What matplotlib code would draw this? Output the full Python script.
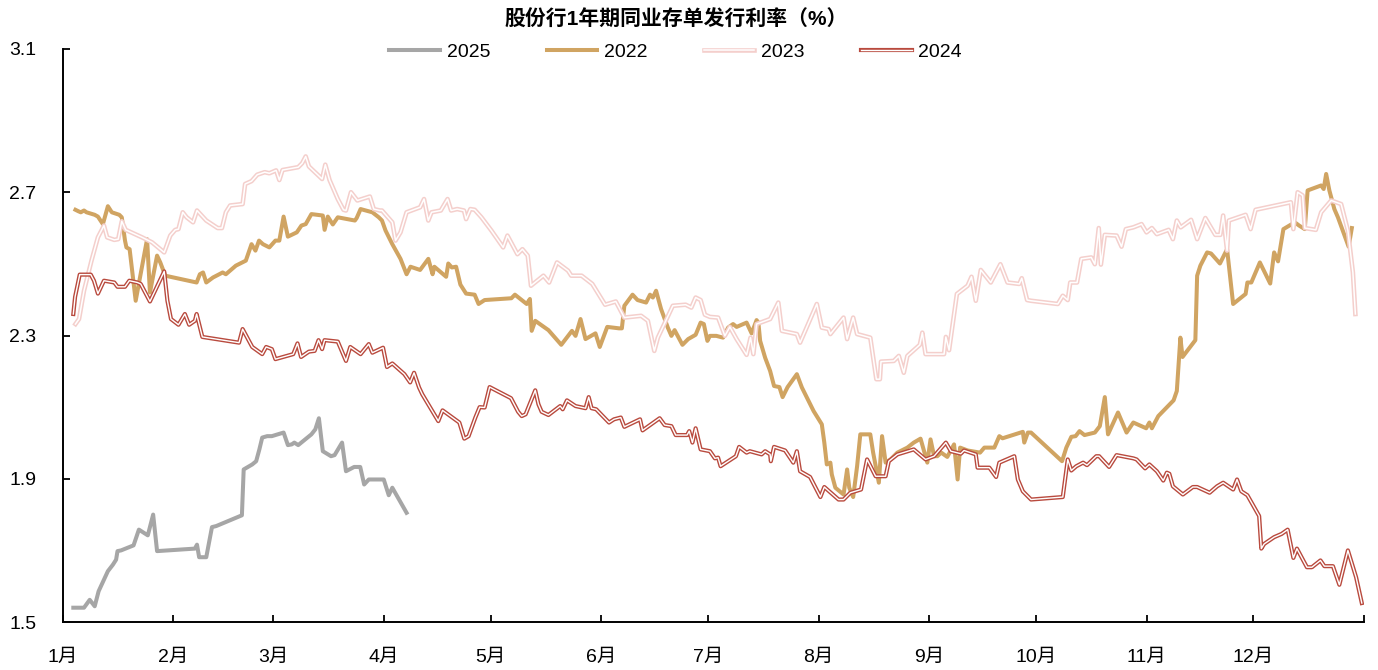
import matplotlib
matplotlib.use("Agg")
import matplotlib.pyplot as plt
import matplotlib.patheffects as pe

plt.rcParams['font.family'] = ['Liberation Sans', 'Noto Sans CJK SC', 'DejaVu Sans']
plt.rcParams['axes.unicode_minus'] = False

# ---- data: day of year (0 = Jan 1) and issuance rate (%) ----
month_labels = ['1月', '2月', '3月', '4月', '5月', '6月', '7月', '8月', '9月', '10月', '11月', '12月']
month_starts = [0, 31, 59, 90, 120, 151, 181, 212, 243, 273, 304, 334]
y_ticks = [1.5, 1.9, 2.3, 2.7, 3.1]

days_2025 = [2.9, 5.9, 7.5, 8.9, 10, 12.6, 14, 14.9, 15.3, 16.3, 19.8, 21.3, 23.8, 25.3, 26.4,
             37, 37.6, 38.2, 40.2, 41.8, 43, 50.2, 50.7, 53.1, 54.2, 55.1, 55.9, 57.3, 58.6,
             61.9, 63.1, 64.2, 64.9, 66, 69.7, 70.8, 71.8, 72.9, 75.2, 76.2, 78.3, 79.4, 81.7,
             83.4, 84.5, 85.8, 90, 91.4, 92.4, 96.4]
rate_2025 = [1.540, 1.540, 1.562, 1.544, 1.586, 1.642, 1.660, 1.674, 1.698, 1.700, 1.714, 1.758,
             1.742, 1.800, 1.698, 1.705, 1.716, 1.681, 1.681, 1.765, 1.768, 1.798, 1.926, 1.940,
             1.949, 1.982, 2.015, 2.019, 2.019, 2.029, 1.994, 1.996, 2.001, 1.994, 2.024, 2.038,
             2.069, 1.977, 1.963, 1.966, 2.001, 1.921, 1.933, 1.933, 1.884, 1.898, 1.898, 1.854,
             1.875, 1.805]

days_2022 = [3.5, 4.3, 5.0, 5.9, 6.6, 8.9, 9.8, 11.2, 12.6, 13.7, 15.8, 16.5, 17.4, 17.8, 18.7,
             20.4, 23.6, 24.4, 26.4, 27.3, 28.7, 37.5, 38.4, 39.3, 40.2, 42.1, 44.8, 45.7, 48.5,
             51.3, 52.9, 54.0, 55.0, 56.1, 57.9, 59.6, 60.7, 61.9, 63.1, 65.6, 66.9, 68.1, 69.7,
             72.9, 73.4, 74.3, 75.7, 77.1, 80.8, 81.9, 82.4, 83.5, 86.8, 88.6,
             89.5, 90.5, 92.4, 94.7, 96.4, 97.5, 100.2, 102.5, 103.7, 104.2, 107.5, 108.1, 109.1,
             110.3, 111.5, 113.1, 115.5, 116.6, 118.3, 125.8, 126.8, 130.1, 131.0, 131.5, 132.5,
             136.2, 139.8, 142.8, 143.8, 145.2, 146.6, 149.4, 150.6, 152.7, 156.0, 156.8, 157.5,
             159.8, 161.2, 163.6, 164.7, 165.5, 166.4, 167.8, 169.7, 170.7, 171.6, 173.8, 175.4,
             177.5, 178.9, 179.8, 180.8, 181.5,
             183.3, 185.2, 186.6, 188.0, 189.0, 191.8, 193.2, 194.6, 195.1, 195.6, 197.0, 198.4,
             199.5, 201.0, 201.9, 203.3, 205.9, 207.3, 208.7, 210.6, 212.9, 213.6, 214.3, 215.3,
             215.7, 216.7, 219.0, 220.0, 220.6, 221.7, 222.8, 223.7, 226.5, 227.3, 228.9, 229.8,
             230.8, 232.2, 234.1, 236.9, 238.7, 240.6, 242.5, 243.4, 244.4, 245.3, 246.4, 248.1,
             250.0, 251.0, 251.7, 253.8, 257.3, 258.5, 261.3, 262.7, 263.6, 269.3, 269.7, 270.7,
             271.6, 280.3, 281.5, 282.9, 284.1, 285.2, 286.6, 289.5, 290.9, 292.3, 293.2, 296.0,
             298.4, 300.3, 303.9, 304.8, 305.5, 307.3, 311.6, 312.5, 313.5, 314.1, 317.7, 318.2,
             319.1, 321.0, 322.1, 324.6, 326.6, 328.3, 331.8, 332.3, 333.4, 335.8, 338.7, 339.8,
             340.9, 342.4, 345.6, 346.8, 348.4, 349.2, 353.0, 353.7, 354.4, 355.3, 356.7, 357.7,
             360.7, 361.6]
rate_2022 = [2.651, 2.647, 2.644, 2.649, 2.644, 2.637, 2.632, 2.611, 2.661, 2.644, 2.637, 2.630,
             2.565, 2.546, 2.541, 2.397, 2.569, 2.420, 2.523, 2.504, 2.467, 2.448, 2.471, 2.476,
             2.448, 2.462, 2.476, 2.471, 2.495, 2.509, 2.555, 2.537, 2.565, 2.555, 2.546, 2.565,
             2.565, 2.632, 2.576, 2.588, 2.607, 2.611, 2.639, 2.635, 2.595, 2.632, 2.610, 2.630,
             2.623, 2.621, 2.628, 2.653, 2.644, 2.630,
             2.621, 2.593, 2.555, 2.514, 2.471, 2.492, 2.483, 2.514, 2.471, 2.492, 2.464, 2.501,
             2.490, 2.492, 2.442, 2.417, 2.414, 2.388, 2.399, 2.404, 2.414, 2.388, 2.402, 2.313,
             2.341, 2.315, 2.274, 2.313, 2.299, 2.346, 2.290, 2.306, 2.268, 2.324, 2.320, 2.320,
             2.383, 2.414, 2.399, 2.392, 2.414, 2.406, 2.425, 2.374, 2.322, 2.299, 2.315, 2.274,
             2.290, 2.302, 2.336, 2.332, 2.285, 2.299,
             2.299, 2.294, 2.322, 2.332, 2.324, 2.336, 2.306, 2.343, 2.336, 2.285, 2.238, 2.201,
             2.159, 2.156, 2.128, 2.156, 2.192, 2.155, 2.127, 2.089, 2.052, 2.001, 1.940, 1.945,
             1.912, 1.875, 1.856, 1.926, 1.875, 1.849, 1.935, 2.024, 2.024, 1.973, 1.889, 2.019,
             1.945, 1.954, 1.973, 1.987, 2.001, 2.012, 1.945, 2.010, 1.963, 1.963, 1.973, 1.961,
             1.996, 1.898, 1.987, 1.979, 1.973, 1.987, 1.987, 2.019, 2.013, 2.031, 2.001, 2.029,
             2.029, 1.949, 1.987, 2.017, 2.019, 2.033, 2.022, 2.029, 2.047, 2.128, 2.024, 2.085,
             2.029, 2.057, 2.041, 2.057, 2.041, 2.075, 2.119, 2.145, 2.294, 2.240, 2.287, 2.467,
             2.495, 2.532, 2.529, 2.501, 2.541, 2.388, 2.416, 2.448, 2.448, 2.504, 2.445, 2.532,
             2.507, 2.597, 2.616, 2.607, 2.597, 2.705, 2.719, 2.709, 2.751, 2.705, 2.653, 2.630,
             2.548, 2.600]

days_2023 = [3.5, 4.5, 5.9, 8.0, 9.8, 11.5, 12.4, 14.4, 15.5, 16.5, 17.6, 22.2, 25.0, 28.4, 30.1,
             31.5, 32.4, 33.6, 34.7, 36.5, 37.6, 40.2, 43.4, 44.6, 45.7, 46.9, 50.4, 51.1, 52.9,
             54.5, 56.6, 57.9, 59.8, 60.7, 61.6, 66.0, 67.1, 68.1, 69.0, 72.7, 73.6, 74.8, 77.1,
             78.7, 79.4, 80.8, 82.6, 86.1, 87.2, 88.9,
             89.5, 92.4, 93.3, 94.7, 96.4, 100.2, 101.3, 102.5, 103.4, 106.0, 107.9, 108.9, 110.6,
             112.5, 113.1, 114.3, 115.5, 117.4, 120.2, 123.5, 124.7, 127.5, 128.9, 130.4, 131.3,
             134.8, 136.4, 138.6, 141.7, 142.6, 145.5, 148.5, 152.1, 155.1, 157.5, 162.2, 164.1,
             165.9, 166.9, 171.1, 174.7, 176.3, 177.5, 178.9, 180.1, 181.5,
             183.8, 185.7, 187.1, 189.0, 191.8, 192.9, 193.7, 194.6, 198.4, 200.7, 201.7, 205.9,
             206.8, 211.5, 212.9, 214.8, 215.3, 219.0, 220.0, 221.7, 222.8, 226.5, 228.2, 229.2,
             229.5, 233.1, 234.5, 235.9, 236.9, 240.4, 241.1, 242.0, 247.2, 247.7, 248.6, 250.8,
             253.8, 254.9, 256.1, 257.5, 260.3, 263.0, 265.0, 268.3, 269.0, 270.5, 271.6,
             279.1, 280.5, 281.9, 282.6, 284.5, 285.7, 288.5, 289.5, 290.6, 291.2, 292.3, 295.6,
             297.0, 298.2, 300.3, 302.6, 304.0, 305.5, 306.9, 310.2, 311.4, 312.5, 313.6, 316.5,
             318.2, 320.5, 323.3, 324.7, 325.5, 326.6, 327.1, 331.8, 333.2, 334.6, 344.5, 345.2,
             346.4, 347.8, 348.4, 351.5, 353.0, 355.8, 358.6, 360.5, 361.9, 362.6]
rate_2023 = [2.332, 2.346, 2.425, 2.509, 2.574, 2.607, 2.574, 2.567, 2.569, 2.619, 2.595, 2.574,
             2.560, 2.532, 2.579, 2.595, 2.597, 2.644, 2.630, 2.616, 2.649, 2.621, 2.600, 2.600,
             2.644, 2.663, 2.667, 2.723, 2.731, 2.749, 2.756, 2.753, 2.761, 2.734, 2.762, 2.770,
             2.781, 2.800, 2.772, 2.737, 2.777, 2.734, 2.681, 2.651, 2.649, 2.700, 2.677, 2.688,
             2.653, 2.649,
             2.649, 2.616, 2.565, 2.588, 2.644, 2.658, 2.681, 2.621, 2.644, 2.649, 2.681, 2.649,
             2.653, 2.649, 2.625, 2.653, 2.651, 2.630, 2.593, 2.546, 2.579, 2.527, 2.541, 2.523,
             2.439, 2.467, 2.448, 2.504, 2.481, 2.467, 2.467, 2.444, 2.386, 2.395, 2.350, 2.355,
             2.341, 2.257, 2.294, 2.383, 2.386, 2.378, 2.406, 2.399, 2.358, 2.352,
             2.350, 2.299, 2.324, 2.290, 2.246, 2.294, 2.248, 2.332, 2.346, 2.392, 2.313, 2.304,
             2.280, 2.388, 2.322, 2.318, 2.304, 2.350, 2.290, 2.350, 2.304, 2.294, 2.178, 2.178,
             2.227, 2.229, 2.243, 2.196, 2.243, 2.274, 2.308, 2.248, 2.248, 2.296, 2.259, 2.416,
             2.439, 2.464, 2.397, 2.483, 2.448, 2.499, 2.448, 2.444, 2.460, 2.399, 2.397,
             2.388, 2.411, 2.399, 2.448, 2.448, 2.514, 2.518, 2.499, 2.600, 2.498, 2.581, 2.579,
             2.548, 2.597, 2.602, 2.611, 2.588, 2.600, 2.583, 2.595, 2.569, 2.621, 2.602, 2.623,
             2.569, 2.628, 2.581, 2.581, 2.635, 2.537, 2.621, 2.637, 2.597, 2.651, 2.672, 2.597,
             2.700, 2.691, 2.600, 2.595, 2.644, 2.677, 2.667, 2.593, 2.476, 2.360]

days_2024 = [2.9, 3.4, 4.7, 7.8, 8.7, 9.8, 11.5, 14.4, 15.3, 17.4, 18.6, 20.9, 21.8, 24.4, 28.4,
             29.3, 30.3, 32.4, 34.2, 35.4, 37.0, 37.5, 39.1, 49.4, 50.4, 53.1, 55.9, 57.0, 58.6,
             59.6, 64.6, 65.8, 66.8, 69.0, 70.6, 71.7, 72.7, 73.4, 77.1, 79.4, 80.6, 83.5, 85.8,
             86.8, 89.8, 90.9,
             92.4, 95.8, 97.4, 98.5, 99.9, 100.8, 105.3, 106.5, 111.2, 112.6, 113.8, 115.7, 116.9,
             118.3, 119.7, 125.7, 127.7, 128.7, 129.8, 132.5, 133.4, 134.3, 136.2, 139.5, 140.2,
             141.4, 143.8, 146.6, 147.5, 148.3, 149.6, 153.2, 154.6, 156.5, 157.5, 161.9, 162.6,
             167.4, 168.8, 170.7, 171.9, 175.1, 175.7, 176.6, 177.5, 178.9, 181.5,
             182.9, 183.8, 184.5, 188.8, 189.7, 191.8, 192.7, 196.0, 197.0, 198.4, 198.6, 199.5,
             202.6, 204.9, 205.9, 206.8, 209.6, 212.5, 213.6, 217.6, 219.0, 220.9, 223.9, 225.6,
             228.0, 230.8, 231.7, 234.1, 238.7, 242.0, 244.4, 247.7, 249.1, 251.9, 252.8, 256.1,
             256.6, 259.9, 261.8, 262.7, 266.9, 267.9, 269.3, 271.6,
             280.5, 281.9, 282.9, 284.3, 286.2, 287.3, 289.9, 290.7, 293.5, 295.6, 300.3, 301.2,
             303.6, 304.8, 306.9, 308.7, 309.7, 310.4, 311.4, 314.2, 317.0, 318.2, 321.7, 323.8,
             325.5, 328.3, 329.4, 330.6, 332.3, 335.6, 336.2, 337.0, 339.8, 341.9, 343.6, 345.2,
             346.2, 349.0, 350.4, 352.8, 353.9, 356.3, 358.1, 360.5, 362.8, 364.4]
rate_2024 = [2.360, 2.408, 2.470, 2.470, 2.453, 2.417, 2.453, 2.448, 2.436, 2.436, 2.453, 2.448,
             2.444, 2.395, 2.479, 2.397, 2.346, 2.330, 2.360, 2.330, 2.341, 2.360, 2.296, 2.280,
             2.318, 2.268, 2.248, 2.268, 2.262, 2.234, 2.248, 2.278, 2.240, 2.255, 2.257, 2.287,
             2.262, 2.287, 2.283, 2.229, 2.268, 2.248, 2.276, 2.252, 2.266, 2.212,
             2.222, 2.192, 2.169, 2.196, 2.155, 2.136, 2.061, 2.091, 2.057, 2.012, 2.019, 2.071,
             2.100, 2.099, 2.156, 2.125, 2.087, 2.075, 2.080, 2.147, 2.108, 2.087, 2.078, 2.103,
             2.094, 2.119, 2.103, 2.097, 2.128, 2.097, 2.094, 2.057, 2.066, 2.071, 2.045, 2.066,
             2.035, 2.069, 2.050, 2.047, 2.022, 2.022, 2.033, 2.001, 2.041, 1.982, 1.977,
             1.957, 1.959, 1.935, 1.963, 1.989, 1.973, 1.977, 1.968, 1.977, 1.968, 1.949, 1.989,
             1.979, 1.945, 1.977, 1.921, 1.905, 1.849, 1.877, 1.842, 1.842, 1.861, 1.870, 1.954,
             1.907, 1.907, 1.949, 1.968, 1.982, 1.954, 1.963, 2.001, 1.977, 1.970, 1.979, 1.968,
             1.931, 1.931, 1.905, 1.945, 1.963, 1.898, 1.865, 1.842,
             1.849, 1.954, 1.923, 1.935, 1.945, 1.938, 1.963, 1.963, 1.933, 1.966, 1.957, 1.954,
             1.929, 1.940, 1.921, 1.895, 1.917, 1.914, 1.879, 1.856, 1.877, 1.877, 1.861, 1.879,
             1.889, 1.870, 1.898, 1.865, 1.854, 1.796, 1.705, 1.718, 1.737, 1.746, 1.758, 1.679,
             1.705, 1.653, 1.653, 1.672, 1.656, 1.656, 1.604, 1.700, 1.625, 1.553]

# ---- styling ----
C_2025 = '#A6A6A6'
C_2022 = '#D0A462'
C_2023 = '#F4CFCC'
C_2024 = '#B94A3E'

fig = plt.figure(figsize=(13.78, 6.70), dpi=100)
ax = fig.add_axes([0.0457, 0.0716, 0.9441, 0.8553])

ax.plot(days_2025, rate_2025, color=C_2025, lw=2.9, solid_joinstyle='round', label='2025')
ax.plot(days_2022, rate_2022, color=C_2022, lw=2.9, solid_joinstyle='round', label='2022')
ax.plot(days_2023, rate_2023, color='white', lw=1.1, label='2023',
        path_effects=[pe.Stroke(linewidth=3.3, foreground=C_2023), pe.Normal()])
ax.plot(days_2024, rate_2024, color='white', lw=1.0, label='2024',
        path_effects=[pe.Stroke(linewidth=3.0, foreground=C_2024), pe.Normal()])

ax.set_xlim(0, 365)
ax.set_ylim(1.5, 3.1)
ax.set_xticks(month_starts + [365])
ax.set_xticklabels(month_labels + [''])
ax.set_yticks(y_ticks)
ax.set_yticklabels([f'{v:.1f}' for v in y_ticks])

for side in ('top', 'right'):
    ax.spines[side].set_visible(False)
for side in ('left', 'bottom'):
    ax.spines[side].set_linewidth(1.4)
    ax.spines[side].set_color('black')

ax.tick_params(axis='x', direction='in', length=5, width=1.3, pad=19, labelsize=14)
ax.tick_params(axis='y', direction='in', length=5, width=1.3, pad=19, labelsize=14)

leg = ax.legend(loc='center', bbox_to_anchor=(0.471, 0.995), ncol=4, frameon=False,
                fontsize=14, handlelength=2.6, handletextpad=0.35, columnspacing=2.9,
                borderaxespad=0)

fig.text(0.4906, 0.970, '股份行1年期同业存单发行利率（%）', ha='center', va='center',
         fontsize=15, fontweight='bold')

fig.savefig('out.png', dpi=100)
